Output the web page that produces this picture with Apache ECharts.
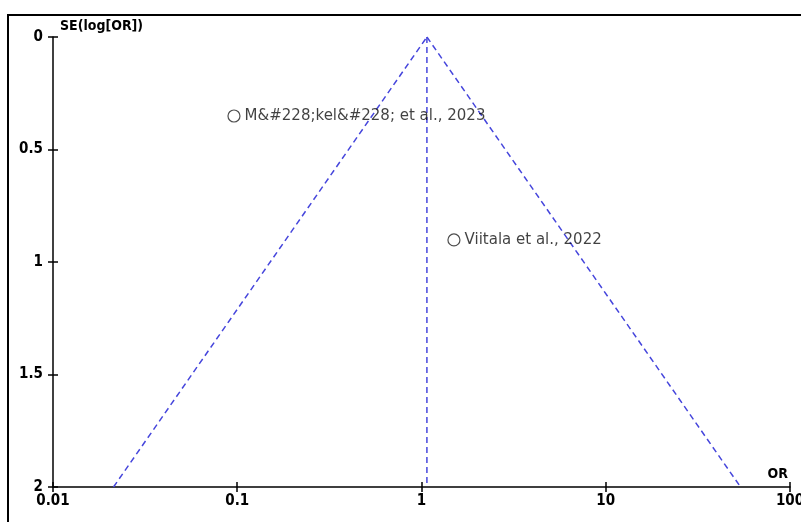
<!DOCTYPE html>
<html>
<head>
<meta charset="utf-8">
<script src="https://cdn.jsdelivr.net/npm/echarts@6/dist/echarts.min.js"></script>
<style>
html,body{margin:0;padding:0;background:#fff;overflow:hidden;}
#c{width:801px;height:522px;}
</style>
</head>
<body>
<div id="c"></div>
<script>
// Study points: [OR, SE(log[OR])]
const studyNames = ['M&#228;kel&#228; et al., 2023', 'Viitala et al., 2022'];
const studyOR = [0.096, 1.50];
const studySE = [0.351, 0.902];
// Funnel
const funnelLeft = [[0.0213, 2], [1.07, 0]];
const funnelRight = [[1.07, 0], [53.9, 2]];
const summaryLine = [[1.07, 0], [1.07, 2]];
const xTicks = [0.01, 0.1, 1, 10, 100];
const yTicks = [0, 0.5, 1, 1.5, 2];

const axisFont = { color: '#000', fontWeight: 'bold', fontSize: 15, fontFamily: "'DejaVu Sans Condensed', 'Liberation Sans Narrow', 'DejaVu Sans', sans-serif" };
const dashStyle = { color: '#4646dc', width: 1.5, type: [6, 4] };
const blackLine = { color: '#000', width: 1.5 };

const chart = echarts.init(document.getElementById('c'), null, { renderer: 'canvas', width: 801, height: 522 });
const grid = { left: 53, top: 37, width: 737, height: 450, containLabel: false, outerBoundsMode: 'none' };

const option = {
  animation: false,
  backgroundColor: '#fff',
  graphic: [{
    type: 'rect', silent: true, z: 100,
    shape: { x: 8, y: 15, width: 900, height: 600 },
    style: { fill: 'none', stroke: '#000', lineWidth: 2 }
  }],
  grid: grid,
  xAxis: [{
    // ticks crossing the axis line (offset inward by half tick length)
    type: 'log', logBase: 10, min: xTicks[0], max: xTicks[xTicks.length - 1], position: 'bottom', offset: -5,
    name: 'OR', nameLocation: 'end', nameGap: 0,
    nameTextStyle: Object.assign({}, axisFont, { fontSize: 14, align: 'right', verticalAlign: 'bottom', padding: [0, 2, 1, 0] }),
    axisLine: { show: false, onZero: false },
    axisTick: { show: true, length: 10, inside: false, lineStyle: blackLine },
    minorTick: { show: false },
    splitLine: { show: false },
    axisLabel: Object.assign({}, axisFont, { margin: 12, showMaxLabel: true, showMinLabel: true, hideOverlap: false,
      formatter: v => { const t = xTicks.find(k => Math.abs(k - v) / k < 1e-6); return t === undefined ? '' : String(t); } })
  }, {
    type: 'log', logBase: 10, min: xTicks[0], max: xTicks[xTicks.length - 1], position: 'bottom',
    axisLine: { show: true, onZero: false, lineStyle: blackLine },
    axisLabel: { show: false }, splitLine: { show: false }, axisTick: { show: false }
  }],
  yAxis: [{
    type: 'value', inverse: true, min: 0, max: 2, interval: 0.5, position: 'left', offset: -5,
    name: 'SE(log[OR])', nameLocation: 'start', nameGap: 4,
    nameTextStyle: Object.assign({}, axisFont, { fontSize: 14, align: 'left', padding: [0, 0, 0, 2] }),
    axisLine: { show: false, onZero: false },
    axisTick: { show: true, length: 10, inside: false, lineStyle: blackLine },
    splitLine: { show: false },
    axisLabel: Object.assign({}, axisFont, { margin: 15, formatter: v => String(v) })
  }, {
    type: 'value', inverse: true, min: 0, max: 2, interval: 0.5, position: 'left',
    axisLine: { show: true, onZero: false, lineStyle: blackLine },
    axisLabel: { show: false }, splitLine: { show: false }, axisTick: { show: false }
  }],
  series: [
    { type: 'line', data: funnelLeft, symbol: 'none', lineStyle: dashStyle, silent: true },
    { type: 'line', data: funnelRight, symbol: 'none', lineStyle: dashStyle, silent: true },
    { type: 'line', data: summaryLine, symbol: 'none', lineStyle: dashStyle, silent: true },
    {
      type: 'scatter', symbol: 'circle', symbolSize: 12,
      itemStyle: { color: '#fff', borderColor: '#222', borderWidth: 1.2 },
      data: studyOR.map((v, i) => ({ value: [v, studySE[i]], name: studyNames[i] })),
      label: { show: true, position: 'right', distance: 4, formatter: p => p.name,
        color: '#111', fontSize: 15, fontFamily: "'DejaVu Sans', sans-serif" },
      z: 5
    }
  ]
};
chart.setOption(option);
</script>
</body>
</html>
